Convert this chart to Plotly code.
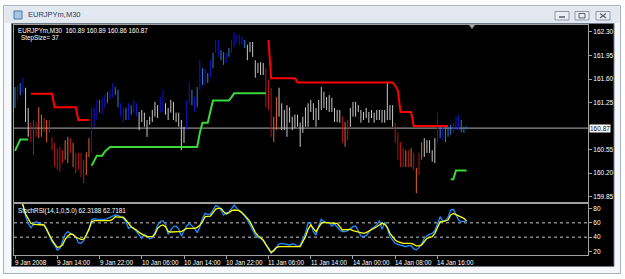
import plotly.graph_objects as go

W, H = 625, 279
def px(x): return x / W
def py(y): return 1 - y / H

N = None
symbol = "EURJPYm,M30"
last_ohlc = [160.89, 160.89, 160.86, 160.87]
last_close = 160.87
step_size = 37
stoch_name = "StochRSI(14,1,0,5.0)"

highs = [161.48,161.51,161.54,161.62,161.47,161.17,160.95,160.99,160.96,161.18,
161.07,161.02,160.99,160.99,160.74,160.65,160.57,160.59,160.54,160.69,
160.74,160.72,160.65,160.50,160.50,160.50,160.40,160.51,160.72,161.17,
161.18,161.29,161.29,161.32,161.36,161.41,161.44,161.54,161.48,161.44,
161.24,161.18,161.17,161.24,161.21,161.29,161.24,161.11,161.14,161.10,
160.99,161.04,161.14,161.26,161.21,161.33,161.44,161.24,161.17,161.29,
161.26,161.10,161.10,160.99,160.89,161.29,161.56,161.44,161.33,161.48,
161.88,161.76,161.76,161.69,161.88,161.99,162.18,162.18,162.03,162.00,
161.99,162.06,162.18,162.29,162.26,162.26,162.23,162.18,162.11,162.15,
162.15,161.88,161.84,161.85,161.84,161.76,161.59,161.47,161.04,161.33,
161.47,161.24,161.14,161.21,161.18,161.04,161.07,161.07,160.95,161.04,
161.18,161.24,161.29,161.24,161.17,161.29,161.48,161.41,161.33,161.36,
161.32,161.17,161.14,161.14,161.04,160.96,160.99,161.17,161.26,161.26,
161.21,161.14,161.11,161.17,161.11,161.14,161.10,161.14,161.14,161.14,
161.14,161.54,161.21,161.21,160.95,160.80,160.66,160.57,160.54,160.54,
160.57,160.50,160.28,160.50,160.66,160.72,160.69,160.69,160.54,160.72,
161.10,160.89,160.89,160.89,160.89,160.92,160.95,161.04,161.07,160.99,
160.89,160.89]

lows = [161.17,161.29,161.36,161.39,160.96,160.74,160.66,160.47,160.74,160.72,
160.74,160.81,160.66,160.81,160.54,160.29,160.25,160.22,160.35,160.40,
160.35,160.50,160.29,160.20,160.25,160.14,160.05,160.17,160.44,160.50,
160.89,160.99,161.10,161.07,161.17,161.24,161.29,161.33,161.36,161.18,
161.04,160.96,160.99,160.99,161.07,161.10,161.04,160.84,160.96,160.89,
160.74,160.92,160.96,161.04,161.02,161.10,161.11,161.07,160.99,161.10,
160.99,160.96,160.89,160.54,160.65,160.84,161.24,161.21,161.11,161.18,
161.44,161.51,161.51,161.54,161.62,161.76,161.99,161.93,161.88,161.81,
161.84,161.93,161.99,162.08,162.14,162.11,162.11,162.06,161.88,162.00,
161.93,161.62,161.69,161.66,161.66,161.18,161.14,160.74,160.66,160.84,
161.04,160.84,160.84,160.74,160.95,160.84,160.87,160.89,160.59,160.80,
160.89,160.89,161.11,160.99,160.89,160.99,161.14,161.17,161.14,161.11,
161.11,160.96,160.96,160.95,160.65,160.59,160.69,160.89,161.04,161.04,
161.11,160.95,160.99,161.02,160.95,161.02,160.95,160.99,160.99,160.95,
160.95,160.99,160.99,160.89,160.65,160.40,160.29,160.29,160.29,160.29,
160.29,160.25,159.90,160.17,160.40,160.44,160.50,160.50,160.37,160.35,
160.65,160.72,160.69,160.66,160.74,160.77,160.80,160.84,160.84,160.81,
160.80,160.86]

# colour class of each bar: B dark blue, L light blue, W white, R red, O orange
bar_codes = list(
    "LBLB" + "WW" +
    "RRR" + "OO" + "R" + "O" + "RRRRRR" + "OO" + "R" + "O" + "RRRR" + "OO" +
    "BBBLBBLBBLLBBLBLBB" + "WWWWWWWW" + "BB" + "WWWWWWWW" +
    "BBLBLBLBLBLBB" + "LLBLBBBBBL" + "WWWWWWW" + "RRROO" +
    "WWWWWWWWWWWWWWWWWWWWWWWW" + "ROR" + "WWWWWWWWWWWWWWWWW" +
    "RRRRORORORO" + "WWWWW" + "BLBLLLBBBLLL")

step_up = ([N]*6 + [161.38]*9 + [161.18]*9 + [160.99]*5 + [N]*67 + [162.18] +
           [161.61]*10 + [161.55]*37 + [161.50, 161.43] + [161.11]*5 +
           [160.90]*14 + [N]*7)
step_dn = ([160.53, 160.62] + [160.70]*4 + [N]*23 + [160.31, 160.38] +
           [160.46]*3 + [160.52, 160.56] + [160.59]*34 + [160.80] + [160.95]*3 +
           [161.12] + [161.28]*7 + [161.33] + [161.39]*13 + [N]*69 +
           [160.11]*2 + [160.24]*5)

stoch_k = [100,100,92,84.9,69.5,59.3,53.3,57.0,61.6,59.3,
58.4,57.0,50.0,40.7,33.7,29.1,22.1,24.4,33.7,44.0,
47.7,45.3,43.0,40.7,32.3,31.4,35.1,43.0,50.9,64.0,
65.8,65.3,64.9,64.9,64.9,65.8,67.2,69.1,70.9,70.5,
68.6,66.3,61.6,52.3,54.2,52.3,47.7,42.1,38.4,44.0,
41.6,37.9,39.3,46.7,57.0,61.6,63.0,57.9,44.0,50.0,
54.6,55.6,51.4,41.6,47.7,55.6,59.3,56.0,52.3,46.3,
54.6,66.3,73.2,71.8,72.3,77.9,84.0,82.6,77.9,70.9,
74.2,75.1,80.2,84.9,80.2,76.5,72.3,69.5,64.0,57.0,
50.0,43.0,39.8,38.8,35.1,29.1,23.0,17.4,22.1,26.7,
30.5,31.4,30.5,29.5,29.1,30.5,30.0,26.7,29.1,37.0,
45.3,60.2,59.3,47.7,43.0,55.6,64.9,61.6,60.2,60.2,
55.6,58.4,54.2,50.0,47.7,47.7,49.1,51.4,54.6,55.6,
47.7,41.6,40.7,42.1,46.7,51.9,54.2,57.0,63.0,50.9,
60.7,52.3,40.7,35.1,31.4,30.0,29.1,27.7,26.7,28.1,
28.1,24.0,22.1,25.8,30.0,38.4,42.1,44.0,45.3,49.1,
57.9,68.6,62.6,63.0,67.7,77.9,78.8,72.3,64.0,61.6,
61.6,62.3188]

stoch_d = [100,100,92,84.9,72.3,64.9,59.3,57.9,57.9,57.9,
57.9,57.0,50.9,43.0,36.1,30.5,25.8,26.3,29.1,37.0,
41.6,44.4,44.0,39.8,37.9,37.0,37.4,43.0,50.9,61.6,
63.0,63.0,63.0,63.0,63.0,63.0,63.0,65.0,68.6,68.1,
68.1,68.1,64.0,58.4,54.6,51.9,50.0,46.7,44.0,42.1,
40.7,40.7,40.7,44.0,52.3,55.6,57.0,54.6,48.1,47.2,
47.7,47.7,47.7,47.7,50.0,52.3,52.3,52.3,52.3,53.7,
56.5,61.6,68.6,69.1,69.5,74.2,79.3,80.2,80.2,75.6,
72.3,74.2,77.0,77.9,77.9,77.0,74.2,70.9,66.3,61.6,
53.7,46.7,42.1,39.3,36.1,30.0,24.4,18.8,21.2,25.4,
26.7,26.7,26.7,26.7,26.7,26.7,26.7,26.7,26.7,33.7,
40.7,50.9,57.0,52.3,47.7,53.7,59.3,60.7,60.2,59.3,
59.3,59.3,59.3,53.7,50.0,50.5,50.9,50.9,49.1,48.1,
47.2,46.3,45.3,46.3,48.1,50.0,52.3,54.6,57.0,59.3,
57.9,53.7,45.3,39.8,36.1,33.7,32.3,31.4,31.4,31.4,
31.4,30.0,27.7,27.7,29.1,33.7,38.4,39.8,40.7,45.3,
54.6,61.6,61.6,62.6,63.9,70.9,73.2,71.4,70.0,68.6,
66.3,62.7181]

time_labels = ["9 Jan 2008", "9 Jan 14:00", "9 Jan 22:00", "10 Jan 06:00",
               "10 Jan 14:00", "10 Jan 22:00", "11 Jan 06:00", "11 Jan 14:00",
               "14 Jan 00:00", "14 Jan 08:00", "14 Jan 16:00"]
time_label_bars = [0, 16, 32, 48, 64, 80, 96, 112, 128, 144, 160]
price_ticks = [159.85, 160.20, 160.55, 161.25, 161.60, 161.95, 162.30]
stoch_ticks = [20, 40, 60, 80]
stoch_levels = [40, 60]

bar_colors = {"B": "#1414c8", "L": "#2f7fd0", "W": "#c8c8c8",
              "R": "#b3141c", "O": "#e0662e"}

FONT = "Liberation Sans, Arial, sans-serif"
fig = go.Figure()

nbars = min(len(bar_codes), len(highs), len(lows))
for code, col in bar_colors.items():
    xs, ys = [], []
    for i in range(nbars):
        if bar_codes[i] == code:
            xs += [i, i, None]
            ys += [lows[i], highs[i], None]
    fig.add_trace(go.Scatter(x=xs, y=ys, mode="lines", line=dict(color=col, width=1),
                             hoverinfo="skip", showlegend=False, xaxis="x", yaxis="y"))

idx = list(range(len(highs)))
fig.add_trace(go.Scatter(x=idx, y=step_up, mode="lines", line=dict(color="#ff0000", width=2),
                         connectgaps=False, showlegend=False, xaxis="x", yaxis="y"))
fig.add_trace(go.Scatter(x=idx, y=step_dn, mode="lines", line=dict(color="#3ad83a", width=2),
                         connectgaps=False, showlegend=False, xaxis="x", yaxis="y"))
fig.add_trace(go.Scatter(x=idx, y=stoch_k, mode="lines", line=dict(color="#1e90ff", width=1.3),
                         showlegend=False, xaxis="x2", yaxis="y2"))
fig.add_trace(go.Scatter(x=idx, y=stoch_d, mode="lines", line=dict(color="#ffff00", width=1.3),
                         showlegend=False, xaxis="x2", yaxis="y2"))

xr = [-0.38, 217.0]
axcol = "#a0a0a0"
tickfont = dict(family=FONT, size=6.5, color="#ffffff")

shapes = [
    dict(type="rect", xref="paper", yref="paper", x0=px(3.5), x1=px(620.5), y0=py(273.5), y1=py(5.5),
         fillcolor="#f5f7fa", line=dict(color="#a8b2bf", width=1), layer="below"),
    dict(type="rect", xref="paper", yref="paper", x0=px(4.5), x1=px(619.5), y0=py(23), y1=py(6.5),
         fillcolor="#e2e8f0", line=dict(width=0), layer="below"),
    dict(type="rect", xref="paper", yref="paper", x0=px(11.5), x1=px(614), y0=py(266.5), y1=py(23.5),
         fillcolor="#000000", line=dict(color="#6e7a88", width=1), layer="below"),
    dict(type="rect", xref="paper", yref="paper", x0=px(14), x1=px(588), y0=py(204), y1=py(202),
         fillcolor="#8a8a8a", line=dict(width=0), layer="below"),
    dict(type="rect", xref="paper", yref="paper", x0=px(14), x1=px(22), y0=py(19), y1=py(11),
         fillcolor="#a9c4e4", line=dict(color="#4d74a3", width=1), layer="below"),
    dict(type="line", xref="x domain", yref="y", x0=0, x1=1, y0=last_close, y1=last_close,
         line=dict(color="#8c8c8c", width=1.2), layer="below"),
    dict(type="path", xref="paper", yref="paper",
         path=f"M {px(469)} {py(25)} L {px(475)} {py(25)} L {px(472)} {py(29)} Z",
         fillcolor="#a0a0a0", line=dict(width=0)),
]
for lv in stoch_levels:
    shapes.append(dict(type="line", xref="x2 domain", yref="y2", x0=0, x1=1, y0=lv, y1=lv,
                       line=dict(color="#c8c8c8", width=1, dash="dot"), layer="below"))
for bx in (555, 575, 596):
    shapes.append(dict(type="rect", xref="paper", yref="paper", x0=px(bx), x1=px(bx + 14),
                       y0=py(20), y1=py(11.5), fillcolor="#e9eef4",
                       line=dict(color="#8d98a7", width=1), layer="above"))
shapes += [
    dict(type="line", xref="paper", yref="paper", x0=px(559), x1=px(565), y0=py(17), y1=py(17),
         line=dict(color="#555f6b", width=1.5)),
    dict(type="rect", xref="paper", yref="paper", x0=px(579), x1=px(585), y0=py(18), y1=py(13.5),
         line=dict(color="#555f6b", width=1)),
    dict(type="line", xref="paper", yref="paper", x0=px(600), x1=px(606), y0=py(13.5), y1=py(18),
         line=dict(color="#555f6b", width=1.2)),
    dict(type="line", xref="paper", yref="paper", x0=px(600), x1=px(606), y0=py(18), y1=py(13.5),
         line=dict(color="#555f6b", width=1.2)),
]

annotations = [
    dict(text=symbol, xref="paper", yref="paper", x=px(26), y=py(15), xanchor="left",
         yanchor="middle", showarrow=False, font=dict(family=FONT, size=7.5, color="#1e3a5f")),
    dict(text=f"{symbol}  " + " ".join(f"{v:.2f}" for v in last_ohlc), xref="paper", yref="paper",
         x=px(15.5), y=py(30), xanchor="left", yanchor="middle", showarrow=False,
         font=dict(family=FONT, size=6.3, color="#ffffff")),
    dict(text=f"StepSize= {step_size}", xref="paper", yref="paper", x=px(18.5), y=py(37.5),
         xanchor="left", yanchor="middle", showarrow=False,
         font=dict(family=FONT, size=6.3, color="#ffffff")),
    dict(text=f"{stoch_name} {stoch_k[-1]:.4f} {stoch_d[-1]:.4f}", xref="paper", yref="paper",
         x=px(15.5), y=py(211), xanchor="left", yanchor="middle", showarrow=False,
         font=dict(family=FONT, size=6.3, color="#ffffff")),
    dict(text=f"{last_close:.2f}", xref="paper", yref="y", x=px(589), y=last_close,
         xanchor="left", yanchor="middle", showarrow=False, bgcolor="#ffffff",
         borderpad=0, font=dict(family=FONT, size=6.5, color="#000000")),
]
for b, t in zip(time_label_bars, time_labels):
    annotations.append(dict(text=t, xref="x2", yref="paper", x=b, y=py(262), xanchor="left",
                            yanchor="middle", xshift=-2, showarrow=False,
                            font=dict(family=FONT, size=6.3, color="#ffffff")))

fig.update_layout(
    width=W, height=H, margin=dict(l=0, r=0, t=0, b=0),
    paper_bgcolor="#ffffff", plot_bgcolor="rgba(0,0,0,0)",
    showlegend=False, shapes=shapes, annotations=annotations,
    xaxis=dict(domain=[px(14), px(588)], range=xr, anchor="y", showticklabels=False,
               showgrid=False, zeroline=False, showline=True, mirror=True,
               linecolor=axcol, linewidth=1, ticks=""),
    yaxis=dict(domain=[py(202), py(25)], range=[159.770, 162.404], anchor="x", side="right",
               tickvals=price_ticks, ticktext=[f"{v:.2f}" for v in price_ticks],
               ticks="outside", ticklen=3, tickcolor=axcol, tickfont=tickfont,
               showgrid=False, zeroline=False, showline=True, mirror=True,
               linecolor=axcol, linewidth=1),
    xaxis2=dict(domain=[px(14), px(588)], range=xr, anchor="y2", showticklabels=False,
                tickvals=time_label_bars, ticks="outside", ticklen=3, tickcolor=axcol,
                showgrid=False, zeroline=False, showline=True, mirror=True,
                linecolor=axcol, linewidth=1),
    yaxis2=dict(domain=[py(255), py(204)], range=[15.1, 86.3], anchor="x2", side="right",
                tickvals=stoch_ticks, ticks="outside", ticklen=3, tickcolor=axcol,
                tickfont=tickfont, showgrid=False, zeroline=False, showline=True,
                mirror=True, linecolor=axcol, linewidth=1),
)

fig.write_html("out.html")
